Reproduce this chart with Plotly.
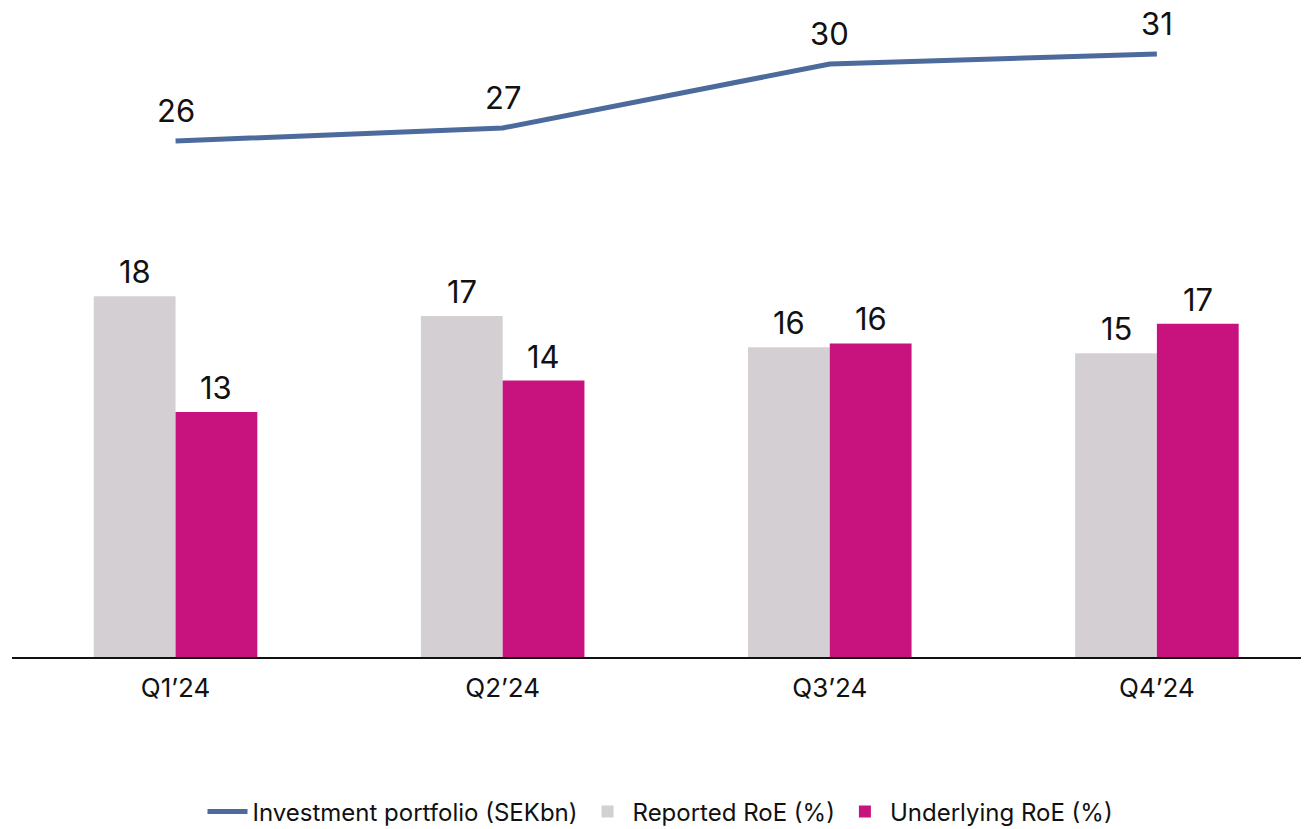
import plotly.graph_objects as go

quarters = ["Q1\u201924", "Q2\u201924", "Q3\u201924", "Q4\u201924"]
reported_roe = [18.4, 17.4, 15.8, 15.5]
reported_lbl = ["18", "17", "16", "15"]
underlying_roe = [12.5, 14.1, 16.0, 17.0]
underlying_lbl = ["13", "14", "16", "17"]
portfolio = [26.3, 26.95, 30.15, 30.65]
portfolio_lbl = ["26", "27", "30", "31"]

FONT = "Inter"
fig = go.Figure()
fig.add_trace(go.Scatter(
    x=quarters, y=portfolio, name="Investment portfolio (SEKbn)", mode="lines",
    line=dict(color="#4C6A9B", width=5), yaxis="y2"))
fig.add_trace(go.Bar(x=quarters, y=reported_roe, name="Reported RoE (%)",
                     marker=dict(color="#D4CFD3", line=dict(width=0))))
fig.add_trace(go.Bar(x=quarters, y=underlying_roe, name="Underlying RoE (%)",
                     marker=dict(color="#C8137F", line=dict(width=0))))

LBL = dict(family=FONT, size=31, color="#111111")
ann = []
for i, q in enumerate(quarters):
    ann.append(dict(x=i - 0.125, y=reported_roe[i], xref="x", yref="y", text=reported_lbl[i],
                    showarrow=False, yanchor="bottom", yshift=4, font=LBL))
    ann.append(dict(x=i + 0.125, y=underlying_roe[i], xref="x", yref="y", text=underlying_lbl[i],
                    showarrow=False, yanchor="bottom", yshift=4, font=LBL))
    ann.append(dict(x=i, y=portfolio[i], xref="x", yref="y2", text=portfolio_lbl[i],
                    showarrow=False, yanchor="bottom", yshift=10, font=LBL))

fig.update_layout(
    width=1301, height=821,
    margin=dict(l=4, r=0, t=0, b=172),
    paper_bgcolor="white", plot_bgcolor="white",
    font=dict(family=FONT, size=24, color="#111111"),
    barmode="group", bargap=0.5, bargroupgap=0,
    xaxis=dict(type="category", range=[-0.5, 3.465], showline=True, linecolor="#111111",
               linewidth=1.5, ticks="", showgrid=False, zeroline=False,
               tickfont=dict(family=FONT, size=26, color="#111111"), ticklabelstandoff=7),
    yaxis=dict(range=[0, 33.11], visible=False, showgrid=False, zeroline=False),
    yaxis2=dict(range=[0.5, 32.95], overlaying="y", visible=False, showgrid=False, zeroline=False),
    legend=dict(orientation="h", x=0.5, xanchor="center", xref="paper",
                y=1 - 804 / 821, yanchor="middle", yref="container",
                font=dict(family=FONT, size=24, color="#111111"), traceorder="normal",
                itemwidth=40),
    annotations=ann, showlegend=True,
)
fig.write_html("out.html")
